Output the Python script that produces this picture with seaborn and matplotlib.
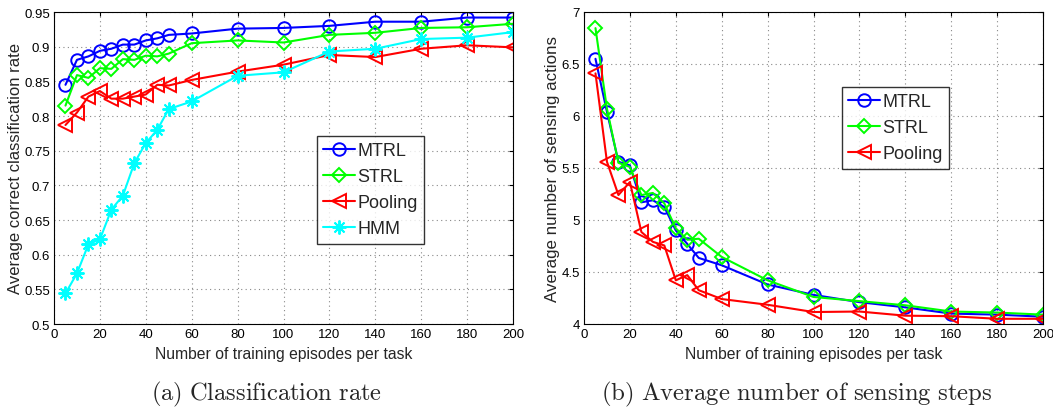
import matplotlib
matplotlib.use("Agg")
import matplotlib.pyplot as plt
import numpy as np
import pandas as pd
import seaborn as sns

episodes = [5, 10, 15, 20, 25, 30, 35, 40, 45, 50, 60, 80, 100, 120, 140, 160, 180, 200]

# (a) classification rate
rate_mtrl = [0.845, 0.881, 0.886, 0.894, 0.897, 0.903, 0.903, 0.909, 0.912, 0.917,
             0.919, 0.926, 0.927, 0.930, 0.936, 0.936, 0.942, 0.942]
rate_strl = [0.815, 0.859, 0.855, 0.869, 0.868, 0.882, 0.881, 0.887, 0.886, 0.890,
             0.905, 0.909, 0.906, 0.917, 0.920, 0.927, 0.928, 0.933]
rate_pooling = [0.787, 0.805, 0.828, 0.836, 0.825, 0.825, 0.828, 0.831, 0.845, 0.844,
                0.852, 0.864, 0.874, 0.888, 0.885, 0.897, 0.902, 0.899]
rate_hmm = [0.544, 0.573, 0.615, 0.622, 0.665, 0.685, 0.732, 0.761, 0.780, 0.810,
            0.821, 0.858, 0.863, 0.893, 0.897, 0.911, 0.913, 0.921]

# (b) average number of sensing actions
steps_mtrl = [6.55, 6.04, 5.56, 5.525, 5.17, 5.19, 5.125, 4.90, 4.77, 4.635,
              4.565, 4.38, 4.28, 4.21, 4.16, 4.10, 4.09, 4.07]
steps_strl = [6.845, 6.07, 5.55, 5.51, 5.24, 5.26, 5.16, 4.92, 4.81, 4.82,
              4.645, 4.42, 4.26, 4.22, 4.18, 4.12, 4.11, 4.09]
steps_pooling = [6.41, 5.56, 5.24, 5.365, 4.885, 4.79, 4.755, 4.42, 4.47, 4.325,
                 4.24, 4.185, 4.115, 4.12, 4.08, 4.075, 4.05, 4.05]

methods = ["MTRL", "STRL", "Pooling", "HMM"]
colors = {"MTRL": (0, 0, 1), "STRL": (0, 1, 0), "Pooling": (1, 0, 0), "HMM": (0, 1, 1)}
markers = {"MTRL": "o", "STRL": "D", "Pooling": "<", "HMM": (8, 2, 0)}
msizes = {"MTRL": 9, "STRL": 7, "Pooling": 10, "HMM": 10}


def long_df(series):
    rows = []
    for name, vals in series.items():
        for x, y in zip(episodes, vals):
            rows.append({"episodes": x, "value": y, "method": name})
    return pd.DataFrame(rows)


df_a = long_df({"MTRL": rate_mtrl, "STRL": rate_strl, "Pooling": rate_pooling, "HMM": rate_hmm})
df_b = long_df({"MTRL": steps_mtrl, "STRL": steps_strl, "Pooling": steps_pooling})

sns.set_style("white")
plt.rcParams["font.family"] = ["Liberation Sans", "DejaVu Sans"]
plt.rcParams["mathtext.fontset"] = "cm"

fig = plt.figure(figsize=(10.53, 4.10), dpi=100)
W, H = 1053, 410
ax_a = fig.add_axes([54 / W, 1 - 325 / H, (513 - 54) / W, (325 - 13) / H])
ax_b = fig.add_axes([584 / W, 1 - 325 / H, (1043 - 584) / W, (325 - 13) / H])

legend_kw = dict(loc="upper left", fontsize=13, frameon=True, fancybox=False,
                 edgecolor="black", handlelength=1.75, handletextpad=0.15,
                 borderpad=0.35, labelspacing=0.5, borderaxespad=0)


def draw(ax, df, names):
    sns.lineplot(data=df, x="episodes", y="value", hue="method", hue_order=names,
                 palette=[colors[n] for n in names], legend=False, ax=ax, lw=1.5)
    for line, n in zip(ax.lines, names):
        line.set_marker(markers[n])
        line.set_markersize(msizes[n])
        line.set_markerfacecolor("none")
        line.set_markeredgecolor(colors[n])
        line.set_markeredgewidth(1.4)
    ax.set_xlim(0, 200)
    ax.set_xticks(np.arange(0, 201, 20))
    ax.grid(True, linestyle=(0, (1, 3)), color="#888888", linewidth=0.8)
    ax.tick_params(direction="in", top=True, right=True, length=3, labelsize=9.5,
                   colors="black", pad=3)
    for s in ax.spines.values():
        s.set_color("black")
        s.set_linewidth(0.8)
    ax.set_xlabel("Number of training episodes per task", fontsize=11.3, labelpad=4)
    return list(ax.lines)


handles_a = draw(ax_a, df_a, methods)
ax_a.set_ylim(0.5, 0.95)
ax_a.set_yticks(np.arange(0.5, 0.951, 0.05))
ax_a.set_yticklabels(["0.5", "0.55", "0.6", "0.65", "0.7", "0.75", "0.8", "0.85", "0.9", "0.95"])
ax_a.set_ylabel("Average correct classification rate", fontsize=12, labelpad=1)
ax_a.legend(handles_a, methods, bbox_to_anchor=(0.573, 0.603), **legend_kw)

handles_b = draw(ax_b, df_b, methods[:3])
ax_b.set_ylim(4, 7)
ax_b.set_yticks(np.arange(4, 7.01, 0.5))
ax_b.set_yticklabels(["4", "4.5", "5", "5.5", "6", "6.5", "7"])
ax_b.set_ylabel("Average number of sensing actions", fontsize=12.2, labelpad=1)
ax_b.legend(handles_b, methods[:3], bbox_to_anchor=(0.562, 0.760), **legend_kw)

fig.text(266 / W, 1 - 394 / H, r"$\mathrm{(a)\ Classification\ rate}$", ha="center",
         va="center", fontsize=17.6)
fig.text(797 / W, 1 - 394 / H, r"$\mathrm{(b)\ Average\ number\ of\ sensing\ steps}$",
         ha="center", va="center", fontsize=17.8)

fig.savefig("out.png", dpi=100)
